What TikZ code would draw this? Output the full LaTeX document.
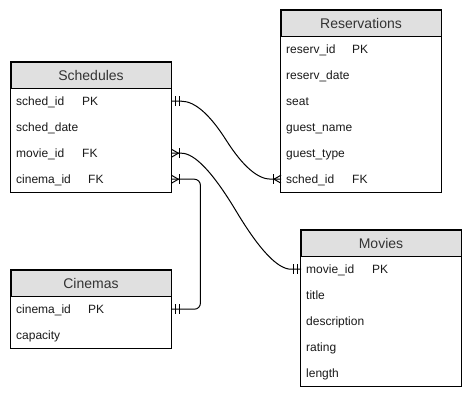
\documentclass[tikz,border=0pt]{standalone}
\usepackage{fontspec}
\setmainfont{Liberation Sans}
\usetikzlibrary{calc}
\definecolor{hdrfill}{HTML}{E0E0E0}
\definecolor{hdrtext}{HTML}{333333}
\definecolor{rowtext}{HTML}{1A1A1A}
\tikzset{
  ent/.style={draw, line width=1pt},
  hdr/.style={draw, line width=1pt, fill=hdrfill, minimum width=160pt, minimum height=26pt, inner sep=0pt, text height=12.5pt, text depth=1.5pt, font=\fontsize{14}{16}\selectfont, text=hdrtext},
  row/.style={minimum width=160pt, minimum height=26pt, inner xsep=5pt, inner ysep=0pt, text width=150pt, text height=10pt, text depth=2pt, align=left, font=\fontsize{12}{14}\selectfont, text=rowtext, anchor=north west},
  conn/.style={line width=1pt},
}
\newcommand\kf[2]{\makebox[66pt][l]{#1}#2}
\newcommand\kfw[2]{\makebox[72pt][l]{#1}#2}
\newcommand\mandone[2]{%
  \draw[conn] ($(#1)+(#2*4,-5)$) -- ++(0,10);
  \draw[conn] ($(#1)+(#2*8,-5)$) -- ++(0,10);}
\newcommand\onemany[2]{%
  \draw[conn] ($(#1)+(0,-4)$) -- ($(#1)+(#2*7,0)$) -- ($(#1)+(0,4)$);
  \draw[conn] ($(#1)+(#2*8,-5)$) -- ++(0,10);}
\newcommand\erpath[2]{%
  \coordinate (p0) at ($(#1)+(10,0)$);
  \coordinate (c1) at ($(#1)+(30,0)$);
  \coordinate (c2) at ($(#2)+(-30,0)$);
  \coordinate (p3) at ($(#2)+(-10,0)$);
  \coordinate (mm) at ($(c1)!0.5!(c2)$);
  \draw[conn] (#1) -- (p0) .. controls ($(p0)!2/3!(c1)$) and ($(mm)!2/3!(c1)$) .. (mm)
    .. controls ($(mm)!2/3!(c2)$) and ($(p3)!2/3!(c2)$) .. (p3) -- (#2);}
\begin{document}
\begin{tikzpicture}[x=1pt,y=-1pt]
\useasboundingbox (0,0) rectangle (471,400);
\fill[white] (0,0) rectangle (471,400);

% Schedules
\node[hdr] (schH) at (91,75) {Schedules};
\node[row] (sch1) at (11,88) {\kf{sched\_id}{PK}};
\node[row] (sch2) at (11,114) {sched\_date};
\node[row] (sch3) at (11,140) {\kf{movie\_id}{FK}};
\node[row] (sch4) at (11,166) {\kfw{cinema\_id}{FK}};
\draw[ent] (schH.north west) rectangle (sch4.south east);

% Reservations
\node[hdr] (resH) at (361,23) {Reservations};
\node[row] (res1) at (281,36) {\kf{reserv\_id}{PK}};
\node[row] (res2) at (281,62) {reserv\_date};
\node[row] (res3) at (281,88) {seat};
\node[row] (res4) at (281,114) {guest\_name};
\node[row] (res5) at (281,140) {guest\_type};
\node[row] (res6) at (281,166) {\kf{sched\_id}{FK}};
\draw[ent] (resH.north west) rectangle (res6.south east);

% Movies
\node[hdr] (movH) at (381,243) {Movies};
\node[row] (mov1) at (301,256) {\kf{movie\_id}{PK}};
\node[row] (mov2) at (301,282) {title};
\node[row] (mov3) at (301,308) {description};
\node[row] (mov4) at (301,334) {rating};
\node[row] (mov5) at (301,360) {length};
\draw[ent] (movH.north west) rectangle (mov5.south east);

% Cinemas
\node[hdr] (cinH) at (91,283) {Cinemas};
\node[row] (cin1) at (11,296) {\kfw{cinema\_id}{PK}};
\node[row] (cin2) at (11,322) {capacity};
\draw[ent] (cinH.north west) rectangle (cin2.south east);

% Connectors
\erpath{sch1.east}{res6.west}
\mandone{sch1.east}{1}
\onemany{res6.west}{-1}

\erpath{sch3.east}{mov1.west}
\onemany{sch3.east}{1}
\mandone{mov1.west}{-1}

\draw[conn, rounded corners=6pt] (sch4.east) -- ++(29,0) |- (cin1.east);
\onemany{sch4.east}{1}
\mandone{cin1.east}{1}
\end{tikzpicture}
\end{document}
